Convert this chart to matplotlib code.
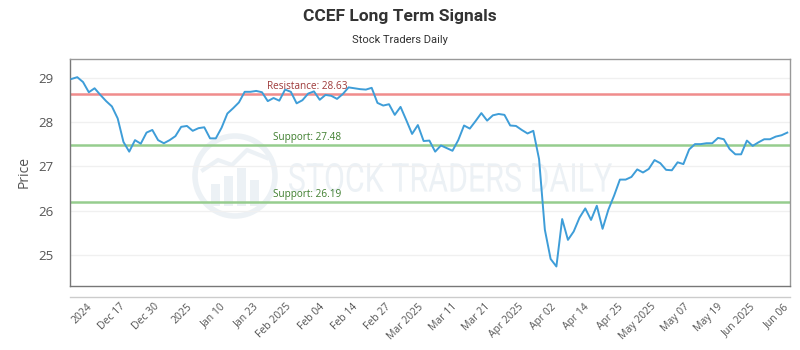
import numpy as np
import matplotlib
matplotlib.use("Agg")
import matplotlib.pyplot as plt
from matplotlib.textpath import TextPath
from matplotlib.patches import PathPatch, Circle, Rectangle
from matplotlib.font_manager import FontProperties
from matplotlib.transforms import Affine2D, blended_transform_factory
from matplotlib.lines import Line2D

title = "CCEF Long Term Signals"
subtitle = "Stock Traders Daily"

prices = [
    28.97, 29.01, 28.90, 28.67, 28.76, 28.61, 28.47, 28.35, 28.08, 27.55,
    27.33, 27.59, 27.51, 27.76, 27.82, 27.59, 27.52, 27.59, 27.68, 27.89,
    27.91, 27.80, 27.86, 27.88, 27.63, 27.63, 27.87, 28.19, 28.31, 28.44,
    28.68, 28.68, 28.70, 28.67, 28.47, 28.54, 28.48, 28.73, 28.68, 28.42,
    28.49, 28.64, 28.69, 28.50, 28.61, 28.59, 28.52, 28.63, 28.78, 28.76,
    28.74, 28.73, 28.77, 28.43, 28.37, 28.40, 28.16, 28.34, 28.04, 27.73,
    27.93, 27.57, 27.58, 27.33, 27.47, 27.41, 27.35, 27.59, 27.92, 27.85,
    28.02, 28.20, 28.03, 28.15, 28.18, 28.16, 27.92, 27.91, 27.82, 27.74,
    27.80, 27.16, 25.57, 24.91, 24.74, 25.81, 25.34, 25.53, 25.84, 26.05,
    25.79, 26.11, 25.59, 26.02, 26.34, 26.70, 26.70, 26.76, 26.93, 26.86,
    26.94, 27.14, 27.07, 26.92, 26.91, 27.09, 27.05, 27.38, 27.50, 27.50,
    27.52, 27.52, 27.64, 27.61, 27.39, 27.27, 27.27, 27.58, 27.46, 27.54,
    27.61, 27.61, 27.67, 27.70, 27.76,
]

tick_labels = ["2024", "Dec 17", "Dec 30", "2025", "Jan 10", "Jan 23", "Feb 2025",
               "Feb 04", "Feb 14", "Feb 27", "Mar 2025", "Mar 11", "Mar 21",
               "Apr 2025", "Apr 02", "Apr 14", "Apr 25", "May 2025", "May 07",
               "May 19", "Jun 2025", "Jun 06"]

resistance = 28.63
supports = [27.48, 26.19]
y_ticks = [25, 26, 27, 28, 29]

W, H = 800, 350
fig = plt.figure(figsize=(8, 3.5), dpi=100)
ax_left, ax_right, ax_top, ax_bot = 70, 790, 59, 286
ax = fig.add_axes([ax_left / W, 1 - ax_bot / H, (ax_right - ax_left) / W, (ax_bot - ax_top) / H])

n = len(prices)
x = np.arange(n)
step = (787.3 - 71.5) / (n - 1)
ax.set_xlim(-1.5 / step, (n - 1) + 2.7 / step)
ax.set_ylim(24.30, 29.42)

# watermark
wm_color = "#ecf1f5"
fp = FontProperties(family="Roboto", weight="normal")
tp = TextPath((0, 0), "STOCK TRADERS DAILY", size=1, prop=fp)
ext = tp.get_extents()
x0, x1, yt, yb = 289, 612, 163, 192
tr = Affine2D().translate(-ext.x0, -ext.y0).scale((x1 - x0) / ext.width, (yb - yt) / ext.height).translate(x0, H - yb)
patch = PathPatch(tp, transform=tr, facecolor=wm_color, edgecolor="none", zorder=0.5)
ax.add_artist(patch)
circ = Circle((235, H - 176), 40, transform=Affine2D(), facecolor="none", edgecolor=wm_color, lw=4, zorder=0.5)
ax.add_artist(circ)
for bx, bh in [(215, 22), (228, 30), (241, 38), (254, 26)]:
    r = Rectangle((bx - 4, H - 206), 9, bh, transform=Affine2D(), facecolor=wm_color, edgecolor="none", zorder=0.5)
    ax.add_artist(r)
wl = Line2D([203, 218, 232, 247, 267], [H - 170, H - 160, H - 165, H - 150, H - 158], transform=Affine2D(),
            color=wm_color, lw=3, zorder=0.5)
ax.add_artist(wl)

ax.set_yticks(y_ticks)
ax.grid(axis="y", color="#f0f0f0", lw=1)
ax.grid(axis="x", visible=False)
ax.set_axisbelow(True)

ax.axhline(resistance, color="#f08c8c", lw=1.8, zorder=2)
for s in supports:
    ax.axhline(s, color="#96cd8e", lw=1.8, zorder=2)

ax.plot(x, prices, color="#3e9dd8", lw=1.4, zorder=3)

trans = blended_transform_factory(ax.transAxes, ax.transData)
lab_x = (307 - ax_left) / (ax_right - ax_left)
ax.annotate(f"Resistance: {resistance:.2f}", xy=(lab_x, resistance), xycoords=trans,
            xytext=(0, 1.5), textcoords="offset points", ha="center", va="bottom",
            fontsize=7.2, color="#9e3a3a", family="Open Sans", zorder=4)
for s in supports:
    ax.annotate(f"Support: {s:.2f}", xy=(lab_x, s), xycoords=trans,
                xytext=(0, 1.5), textcoords="offset points", ha="center", va="bottom",
                fontsize=7.2, color="#3f7f2f", family="Open Sans", zorder=4)

# x ticks, evenly spaced
tick_px = np.linspace(87, 783, len(tick_labels))
tick_pos = (tick_px - 71.5) / step
ax.set_xticks(tick_pos)
ax.set_xticklabels(tick_labels, rotation=45, ha="right", rotation_mode="anchor",
                   fontsize=7.5, color="#555555", family="Open Sans")
ax.tick_params(axis="x", length=0, pad=11)
ax.tick_params(axis="y", length=0, pad=12, labelsize=9.5, labelcolor="#555555")
for lab in ax.get_yticklabels():
    lab.set_family("Open Sans")

for side in ["left", "bottom", "right", "top"]:
    ax.spines[side].set_color("#777777")
    ax.spines[side].set_linewidth(1.0)
ax.spines["top"].set_color("#999999")
ax.spines["right"].set_color("#999999")

ax.set_ylabel("Price", fontsize=10, color="#555555", family="Open Sans")
ax.yaxis.set_label_coords(-(ax_left - 32) / (ax_right - ax_left), 0.5)

fig.add_artist(Line2D([ax_left / W, ax_right / W], [1 - 297 / H, 1 - 297 / H], color="#cccccc", lw=1))

fig.text(0.5, 1 - 16 / H, title, ha="center", va="center", fontsize=12.5, fontweight="bold",
         color="#333333", family="Roboto")
fig.text(0.5, 1 - 40 / H, subtitle, ha="center", va="center", fontsize=8, color="#333333", family="Roboto")

fig.savefig("out.png", dpi=100, facecolor="white")
